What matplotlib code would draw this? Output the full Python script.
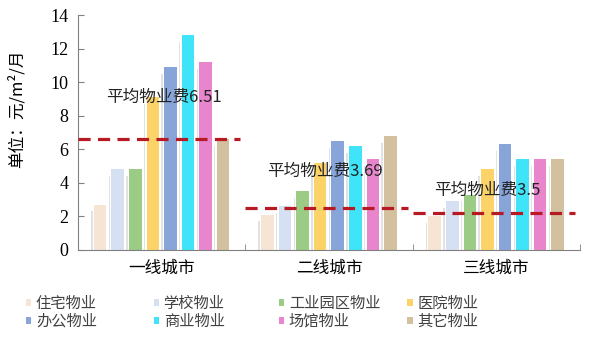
import numpy as np
import matplotlib.pyplot as plt

plt.rcParams['font.family'] = ['Noto Sans CJK SC', 'DejaVu Sans']

cities = ['一线城市', '二线城市', '三线城市']
types = ['住宅物业', '学校物业', '工业园区物业', '医院物业',
         '办公物业', '商业物业', '场馆物业', '其它物业']
colors = ['#F6E4D4', '#D5E0F2', '#9CCB85', '#FCD368',
          '#87A5D8', '#3FE4F8', '#E985CC', '#D2C09E']

fees = {
    '住宅物业': [2.7, 2.1, 2.0],
    '学校物业': [4.8, 2.6, 2.9],
    '工业园区物业': [4.8, 3.5, 3.3],
    '医院物业': [9.1, 5.2, 4.8],
    '办公物业': [10.9, 6.5, 6.3],
    '商业物业': [12.8, 6.2, 5.4],
    '场馆物业': [11.2, 5.4, 5.4],
    '其它物业': [6.6, 6.8, 5.4],
}
avg_line = [6.6, 2.5, 2.2]
avg_text = ['平均物业费6.51', '平均物业费3.69', '平均物业费3.5']
avg_text_pos = [(-0.33, 9.1), (0.63, 4.65), (1.63, 3.55)]

fig = plt.figure(figsize=(5.91, 3.41), dpi=100, facecolor='white')
ax = fig.add_axes([0.132, 0.267, 0.849, 0.689])

x = np.arange(len(cities))
step = 0.105
width = 0.075
handles = []
for i, t in enumerate(types):
    off = (i - 3.5) * step
    vals = np.array(fees[t])
    # faint shadow on the left of each bar
    ax.bar(x + off - width / 2 - 0.012, np.maximum(vals - 0.4, 0), width=0.008,
           color='#E2E2E2', linewidth=0, zorder=1)
    b = ax.bar(x + off, vals, width=width, color=colors[i], linewidth=0,
               zorder=2, label=t)
    handles.append(b)

for g in range(len(cities)):
    ax.plot([g - 0.5, g + 0.47], [avg_line[g]] * 2, linestyle=(0, (3.8, 2.3)),
            color='#B81A24', linewidth=2.3, zorder=3)
    tx, ty = avg_text_pos[g]
    ax.text(tx, ty, avg_text[g], fontsize=12, color='#222222',
            va='center', ha='left', zorder=4)

ax.set_xlim(-0.5, 2.5)
ax.set_ylim(0, 14)
ax.set_yticks(range(0, 15, 2))
ax.set_yticklabels([str(v) for v in range(0, 15, 2)])
for lab in ax.get_yticklabels():
    lab.set_fontfamily('Liberation Serif')
    lab.set_fontsize(13)
ax.set_xticks(x)
ax.set_xticklabels(cities, fontsize=12)
ax.set_xticks([0.5, 1.5, 2.5], minor=True)
ax.tick_params(axis='x', which='major', length=0, pad=7)
ax.tick_params(axis='x', which='minor', direction='in', length=4, color='#808080')
ax.tick_params(axis='y', direction='in', length=4, color='#808080', pad=7)
ax.set_ylabel('单位：元/m²/月', fontsize=12)
ax.yaxis.set_label_coords(-0.105, 0.60)
for s in ['top', 'right']:
    ax.spines[s].set_visible(False)
for s in ['left', 'bottom']:
    ax.spines[s].set_color('#808080')

# legend: 4 fixed-width columns, two rows each
col_x = [0.044, 0.26, 0.472, 0.689]
for c in range(4):
    idx = [c, c + 4]
    leg = fig.legend([handles[k] for k in idx], [types[k] for k in idx],
                     loc='center left', bbox_to_anchor=(col_x[c], 0.084),
                     frameon=False, fontsize=11,
                     handlelength=0.35, handleheight=0.35, handletextpad=0.3,
                     labelspacing=0.05, borderaxespad=0, borderpad=0)
    for t in leg.get_texts():
        t.set_color('#404040')

fig.savefig('out.png', dpi=100, facecolor='white')
